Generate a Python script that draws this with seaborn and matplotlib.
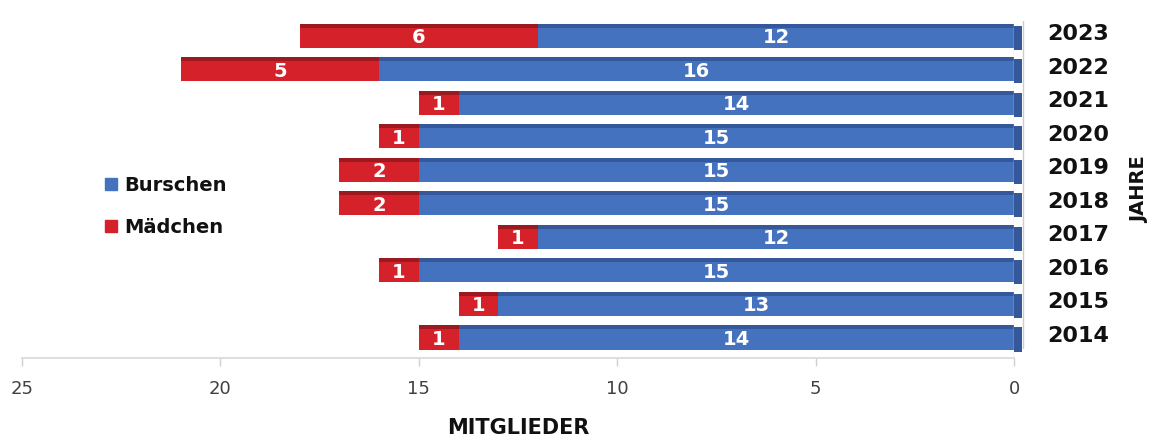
import matplotlib
matplotlib.use('Agg')
import matplotlib.pyplot as plt
from matplotlib.lines import Line2D
import seaborn as sns
import pandas as pd

sns.set_theme(style='white')
plt.rcParams['font.family'] = ['DejaVu Sans']

# data
years = ['2023', '2022', '2021', '2020', '2019', '2018', '2017', '2016', '2015', '2014']
burschen = [12, 16, 14, 15, 15, 15, 12, 15, 13, 14]
maedchen = [6, 5, 1, 1, 2, 2, 1, 1, 1, 1]

blue = '#4572BE'
blue_dark = '#34589A'
red = '#D4212A'
red_dark = '#9C1A1F'

df = pd.DataFrame({'Jahr': years, 'Burschen': burschen, 'Mädchen': maedchen})
df['Gesamt'] = df['Burschen'] + df['Mädchen']

fig = plt.figure(figsize=(11.5, 4.37), dpi=100)
ax = fig.add_axes([0.019, 0.181, 0.863, 0.771])

h = 0.6
sns.barplot(data=df, x='Gesamt', y='Jahr', orient='h', color=red, width=h,
            saturation=1, linewidth=0, ax=ax)
sns.barplot(data=df, x='Burschen', y='Jahr', orient='h', color=blue, width=h,
            saturation=1, linewidth=0, ax=ax)

# fake 3D: darker strip on top and end face at 0
pos = list(range(len(years)))
ax.barh([p - h / 2 - 0.06 for p in pos], df['Gesamt'], height=0.12, color=red_dark, lw=0)
ax.barh([p - h / 2 - 0.06 for p in pos], df['Burschen'], height=0.12, color=blue_dark, lw=0)
ax.barh(pos, [-0.2] * len(pos), height=h + 0.12, color=blue_dark, lw=0, clip_on=False)
ax.axvline(-0.22, ymin=0.03, ymax=1.0, color='#cccccc', lw=1, clip_on=False)

# segment labels
ax.bar_label(ax.containers[1], labels=[str(v) for v in burschen], label_type='center',
             color='white', fontsize=14, fontweight='semibold')
for p, b, m in zip(pos, burschen, maedchen):
    ax.text(b + m / 2, p, str(m), ha='center', va='center', color='white',
            fontsize=14, fontweight='semibold')

ax.set_xlim(25, 0)
ax.set_ylim(len(years) - 0.45, -0.5)
ax.set_xticks([25, 20, 15, 10, 5, 0])
ax.tick_params(axis='x', colors='#d0d0d0', labelcolor='#404040', labelsize=13,
               length=6, width=1, direction='out', pad=10, bottom=True)
ax.yaxis.tick_right()
ax.yaxis.set_label_position('right')
ax.set_yticks([p - 0.17 for p in pos], labels=years)
ax.tick_params(axis='y', length=0, pad=24, labelsize=16, labelcolor='#111111')
for t in ax.get_yticklabels():
    t.set_fontweight('bold')

for s in ['top', 'left', 'right']:
    ax.spines[s].set_visible(False)
ax.spines['bottom'].set_color('#d9d9d9')
ax.axvline(0, color='#d9d9d9', lw=1)

ax.set_xlabel('MITGLIEDER', fontsize=15, fontweight='bold', labelpad=14, color='#111111')
ax.set_ylabel('JAHRE', fontsize=14, fontweight='bold', labelpad=15, color='#111111')

handles = [Line2D([], [], marker='s', ls='', color=blue, markersize=8),
           Line2D([], [], marker='s', ls='', color=red, markersize=8)]
leg = ax.legend(handles, ['Burschen', 'Mädchen'], loc='center left',
                bbox_to_anchor=(0.062, 0.45), frameon=False, fontsize=14,
                labelspacing=1.2, handletextpad=0.2, handlelength=1)
for t in leg.get_texts():
    t.set_fontweight('bold')
    t.set_color('#111111')

fig.savefig('out.png', dpi=100)
